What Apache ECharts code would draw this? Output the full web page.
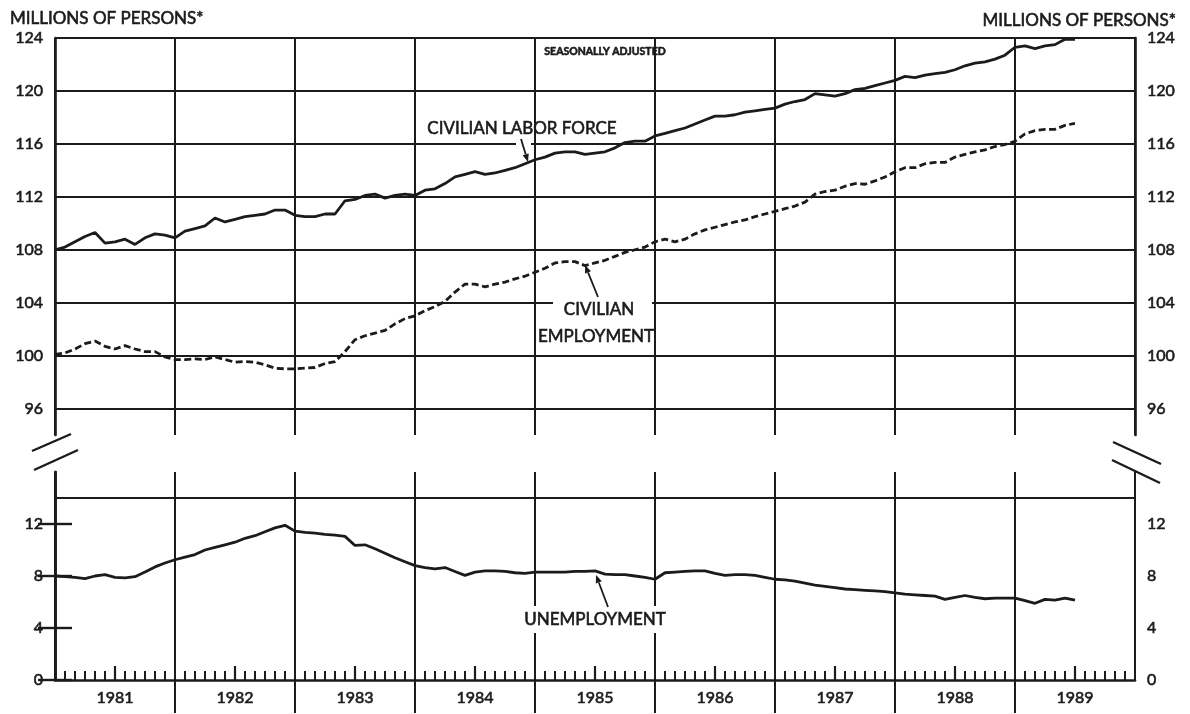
<!DOCTYPE html>
<html><head><meta charset="utf-8">
<script src="https://cdn.jsdelivr.net/npm/echarts@6/dist/echarts.min.js"></script>
<style>html,body{margin:0;padding:0;background:#fff}#chart{width:1190px;height:714px}</style>
</head><body><div id="chart"></div>
<script>
// Monthly data, Jan 1981 .. Jul 1989 (millions of persons, seasonally adjusted)
const yearLabels = ['1981','1982','1983','1984','1985','1986','1987','1988','1989'];
const laborForce = [
 108.0,108.2,108.6,109.0,109.3,108.5,108.6,108.8,108.4,108.9,109.2,109.1,
 108.9,109.4,109.6,109.8,110.4,110.1,110.3,110.5,110.6,110.7,111.0,111.0,
 110.6,110.5,110.5,110.7,110.7,111.7,111.8,112.1,112.2,111.9,112.1,112.2,
 112.1,112.5,112.6,113.0,113.5,113.7,113.9,113.7,113.8,114.0,114.2,114.5,
 114.8,115.0,115.3,115.4,115.4,115.2,115.3,115.4,115.7,116.1,116.2,116.2,
 116.6,116.8,117.0,117.2,117.5,117.8,118.1,118.1,118.2,118.4,118.5,118.6,
 118.7,119.0,119.2,119.35,119.8,119.7,119.6,119.8,120.1,120.2,120.4,120.6,
 120.8,121.1,121.0,121.2,121.3,121.4,121.6,121.9,122.1,122.2,122.4,122.7,
 123.3,123.4,123.2,123.4,123.5,123.9,123.9
];
const employment = [
 100.1,100.2,100.5,100.9,101.1,100.7,100.5,100.75,100.5,100.3,100.3,99.9,
 99.7,99.7,99.75,99.7,99.9,99.7,99.5,99.55,99.5,99.3,99.05,99.0,
 99.0,99.05,99.1,99.4,99.55,100.3,101.2,101.5,101.7,101.9,102.4,102.8,
 103.0,103.4,103.7,104.1,104.8,105.4,105.4,105.2,105.4,105.55,105.8,106.0,
 106.3,106.6,107.0,107.1,107.1,106.8,107.0,107.2,107.5,107.8,108.0,108.2,
 108.6,108.8,108.6,108.8,109.2,109.5,109.7,109.9,110.1,110.25,110.5,110.7,
 110.9,111.1,111.3,111.6,112.2,112.4,112.5,112.8,113.0,112.95,113.2,113.5,
 113.9,114.2,114.2,114.5,114.6,114.6,115.0,115.2,115.4,115.55,115.8,115.95,
 116.2,116.75,117.0,117.1,117.1,117.4,117.55
];
const unemployment = [
 8.0,7.95,7.9,7.8,8.0,8.1,7.9,7.85,7.95,8.3,8.7,9.0,
 9.25,9.45,9.65,10.0,10.2,10.4,10.6,10.9,11.1,11.4,11.7,11.9,
 11.45,11.35,11.3,11.2,11.15,11.05,10.35,10.4,10.1,9.75,9.4,9.1,
 8.8,8.65,8.55,8.65,8.35,8.05,8.3,8.4,8.4,8.35,8.25,8.2,
 8.3,8.3,8.3,8.3,8.35,8.35,8.4,8.15,8.1,8.1,8.0,7.9,
 7.75,8.25,8.3,8.35,8.4,8.4,8.2,8.05,8.1,8.1,8.05,7.9,
 7.75,7.7,7.6,7.45,7.3,7.2,7.1,7.0,6.95,6.9,6.85,6.8,
 6.7,6.6,6.55,6.5,6.45,6.2,6.35,6.5,6.35,6.25,6.3,6.3,
 6.3,6.1,5.9,6.2,6.15,6.3,6.15
];
const upperTicks = [96,100,104,108,112,116,120,124];
const lowerTicks = [0,4,8,12];
const lowerGridLines = [14];
const unitLabel = 'MILLIONS OF PERSONS*';
const noteLabel = 'SEASONALLY ADJUSTED';

const INK = '#1b1b1b';
const FONT = 'Lato';
const monthsPerYear = 12;
const totalMonths = yearLabels.length * monthsPerYear;
const midYears = yearLabels.map((y, i) => i * monthsPerYear + 6);
const innerYearLines = yearLabels.slice(1).map((y, i) => (i + 1) * monthsPerYear);
const toPairs = arr => arr.map((v, i) => [i, v]);

const labelStyle = { color: INK, fontFamily: FONT, fontSize: 16, textBorderColor: INK, textBorderWidth: 0.6 };

function arrow(x1, y1, x2, y2) {
  const dx = x2 - x1, dy = y2 - y1, L = Math.sqrt(dx*dx + dy*dy);
  const ux = dx / L, uy = dy / L, px = -uy, py = ux;
  const bx = x2 - ux * 8, by = y2 - uy * 8;
  return [
    { type: 'line', z: 20, shape: { x1, y1, x2: bx, y2: by }, style: { stroke: INK, lineWidth: 1.8 } },
    { type: 'polygon', z: 20, shape: { points: [[x2, y2], [bx + px * 3.2, by + py * 3.2], [bx - px * 3.2, by - py * 3.2]] }, style: { fill: INK } }
  ];
}
function txt(text, x, y, size, align, weight) {
  return { type: 'text', z: 21, style: { text, x, y, fill: INK, stroke: INK, lineWidth: 0.6,
    font: (weight || 'normal') + ' ' + size + 'px ' + FONT, align: align || 'center', verticalAlign: 'middle' } };
}
function whiteRect(x, y, w, h) {
  return { type: 'rect', z: 15, shape: { x, y, width: w, height: h }, style: { fill: '#fff' } };
}
function seg(x1, y1, x2, y2) {
  return { type: 'line', z: 20, shape: { x1, y1, x2, y2 }, style: { stroke: INK, lineWidth: 2.4 } };
}

const chart = echarts.init(document.getElementById('chart'), null, { renderer: 'canvas' });
chart.setOption({
  animation: false,
  backgroundColor: '#fff',
  grid: [
    { left: 55, width: 1080, top: 38, height: 397, outerBoundsMode: 'none' },
    { left: 55, width: 1080, top: 472, height: 208, outerBoundsMode: 'none' }
  ],
  xAxis: [
    { gridIndex: 0, type: 'value', min: 0, max: totalMonths, interval: 12,
      axisLine: { show: false }, axisTick: { show: false }, axisLabel: { show: false },
      splitLine: { show: true, lineStyle: { color: INK, width: 2 } } },
    { gridIndex: 1, type: 'value', min: 0, max: totalMonths, interval: 12,
      axisLine: { show: true, onZero: false, lineStyle: { color: INK, width: 2.6 } },
      axisTick: { show: false, inside: true },
      minorTick: { show: true, splitNumber: 12, length: 9, lineStyle: { color: INK, width: 2 } },
      axisLabel: { show: false },
      splitLine: { show: true, lineStyle: { color: INK, width: 2 } } },
    { gridIndex: 1, type: 'value', min: 0, max: totalMonths, position: 'bottom',
      axisLine: { show: false },
      axisTick: { show: true, inside: true, length: 14, customValues: midYears, lineStyle: { color: INK, width: 2.2 } },
      axisLabel: { show: true, customValues: midYears, margin: 10, ...labelStyle,
        formatter: v => yearLabels[Math.round((v - 6) / 12)] },
      splitLine: { show: false } },
    { gridIndex: 1, type: 'value', min: 0, max: totalMonths, position: 'bottom',
      axisLine: { show: false },
      axisTick: { show: true, inside: false, length: 33, customValues: innerYearLines, lineStyle: { color: INK, width: 2 } },
      axisLabel: { show: false }, splitLine: { show: false } }
  ],
  yAxis: [
    { gridIndex: 0, type: 'value', min: 94, max: 124, position: 'left',
      axisLine: { show: true, lineStyle: { color: INK, width: 2.6 } },
      axisTick: { show: false, customValues: upperTicks },
      axisLabel: { customValues: upperTicks, margin: 12, ...labelStyle },
      splitLine: { show: true, lineStyle: { color: INK, width: 2 } } },
    { gridIndex: 0, type: 'value', min: 94, max: 124, position: 'right',
      axisLine: { show: true, lineStyle: { color: INK, width: 2.6 } },
      axisTick: { show: false, customValues: upperTicks },
      axisLabel: { customValues: upperTicks, margin: 12, ...labelStyle },
      splitLine: { show: false } },
    { gridIndex: 1, type: 'value', min: 0, max: 16, position: 'left',
      axisLine: { show: true, lineStyle: { color: INK, width: 2.6 } },
      axisTick: { show: true, inside: true, length: 17, customValues: lowerTicks, lineStyle: { color: INK, width: 2.4 } },
      axisLabel: { customValues: lowerTicks, margin: 12, ...labelStyle },
      splitLine: { show: false } },
    { gridIndex: 1, type: 'value', min: 0, max: 16, position: 'right',
      axisLine: { show: true, lineStyle: { color: INK, width: 2.6 } },
      axisTick: { show: true, inside: true, length: 17, customValues: lowerTicks, lineStyle: { color: INK, width: 2.4 } },
      axisLabel: { customValues: lowerTicks, margin: 12, ...labelStyle },
      splitLine: { show: false } },
    { gridIndex: 1, type: 'value', min: 0, max: 16, position: 'left',
      axisLine: { show: false },
      axisTick: { show: false, customValues: lowerGridLines },
      axisLabel: { show: false },
      splitLine: { show: true, lineStyle: { color: INK, width: 2 } } }
  ],
  series: [
    { name: 'Civilian labor force', type: 'line', xAxisIndex: 0, yAxisIndex: 0, data: toPairs(laborForce),
      symbol: 'none', z: 5, lineStyle: { color: INK, width: 2.8 } },
    { name: 'Civilian employment', type: 'line', xAxisIndex: 0, yAxisIndex: 0, data: toPairs(employment),
      symbol: 'none', z: 5, lineStyle: { color: INK, width: 2.8, type: [7, 3.5] } },
    { name: 'Unemployment', type: 'line', xAxisIndex: 1, yAxisIndex: 2, data: toPairs(unemployment),
      symbol: 'none', z: 5, lineStyle: { color: INK, width: 2.8 } }
  ],
  graphic: [
    whiteRect(516, 139, 15, 10),
    whiteRect(553, 297, 99, 50),
    whiteRect(524, 606, 142, 27),
    txt(unitLabel, 10, 18.5, 17, 'left'),
    txt(unitLabel, 1176, 20.5, 17, 'right'),
    txt(noteLabel, 605, 52, 10.5, 'center', 'bold'),
    txt('CIVILIAN LABOR FORCE', 522, 128.5, 17),
    txt('CIVILIAN', 599, 310, 17),
    txt('EMPLOYMENT', 596, 337, 17),
    txt('UNEMPLOYMENT', 595, 620, 17),
    ...arrow(521, 139, 528, 162),
    ...arrow(598, 297, 585, 265),
    ...arrow(608, 607, 596, 575),
    seg(32, 451, 71, 434),
    seg(34, 470, 78, 450),
    seg(1113, 442, 1161, 464),
    seg(1112, 460, 1160, 483)
  ]
});
</script></body></html>
